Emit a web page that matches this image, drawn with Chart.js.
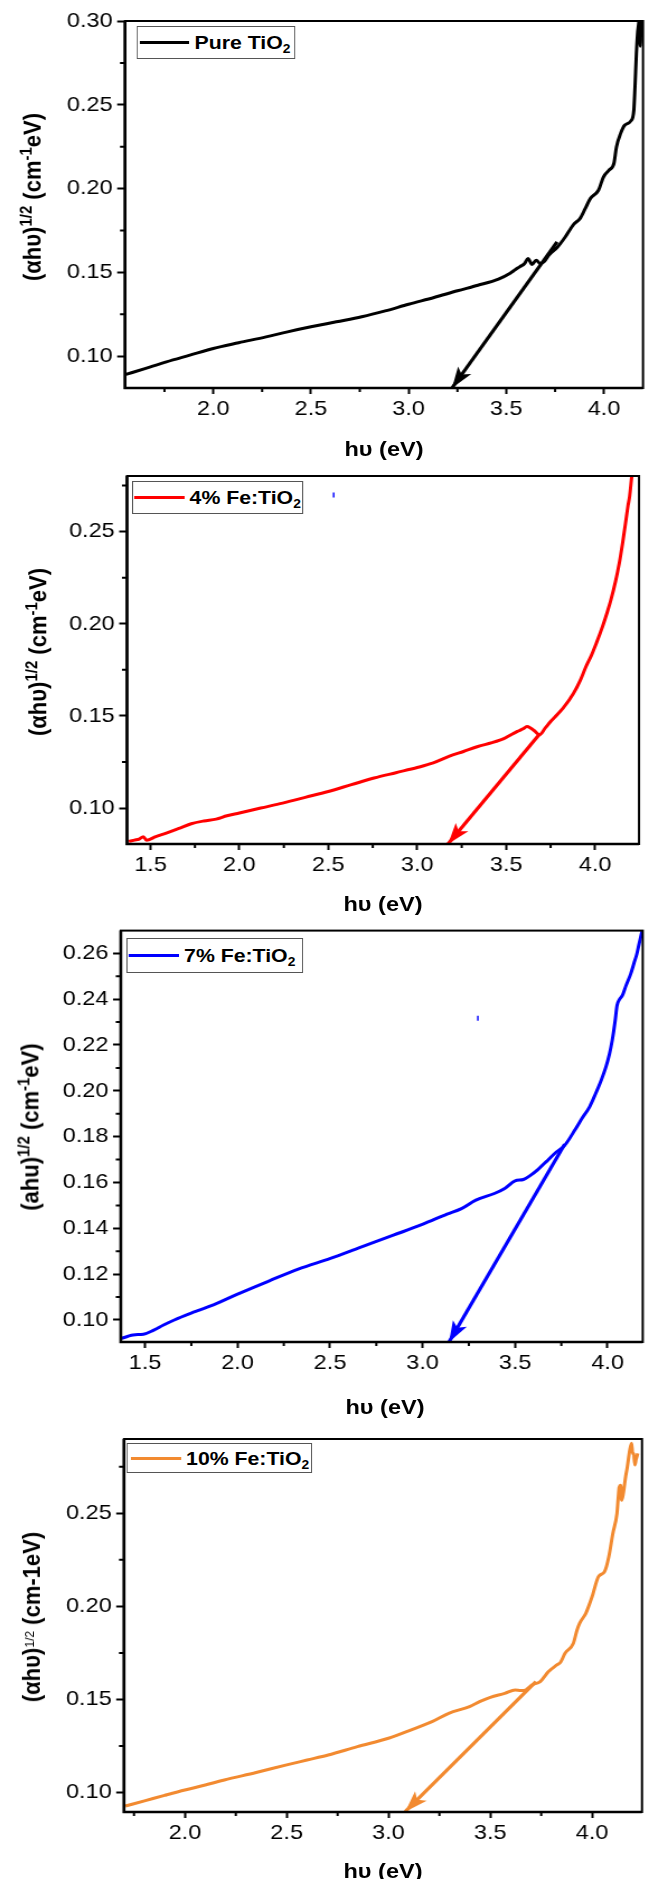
<!DOCTYPE html>
<html lang="en">
<head>
<meta charset="UTF-8">
<title>Tauc plots: TiO2 and Fe:TiO2</title>
<script src="https://cdn.jsdelivr.net/npm/chart.js@4"></script>
<style>
  html, body { margin: 0; padding: 0; background: #fff; }
  body { width: 649px; height: 1879px; overflow: hidden; position: relative; font-family: "Liberation Sans", Arial, sans-serif; color: #000; }
  #stage { position: absolute; left: 0; top: 0; width: 580px; height: 1879px; transform-origin: 0 0; }
  .panel { position: absolute; left: 0; }
  .ytitle, .xtitle { position: absolute; font-weight: bold; white-space: nowrap; line-height: 1; }
  .ytitle { font-size: 22px; transform: translate(-50%, -50%) rotate(-90deg); }
  .xtitle { font-size: 21px; transform: translate(-50%, -50%); }
  sup { font-size: 0.68em; vertical-align: 0.5em; line-height: 0; }
  sup.thin { font-size: 0.55em; font-weight: normal; }
  sub { font-size: 0.65em; vertical-align: -0.3em; line-height: 0; }
  .legend { position: absolute; box-sizing: border-box; border: 1px solid #555; background: #fff; display: flex; align-items: center; white-space: nowrap; }
  .legend .swatch { display: inline-block; height: 3px; flex: none; }
  .legend .label { font-weight: bold; font-size: 19px; line-height: 1; }
</style>
</head>
<body>
<div id="stage"></div>
<script>
// the source figure is stretched sideways, so everything is drawn narrower and scaled back up
const SX = 649 / 580;

// Pure TiO2
const pureX = [1.553, 1.65, 1.76, 1.88, 2.00, 2.13, 2.27, 2.38, 2.50, 2.63, 2.76, 2.88, 3.00, 3.13, 3.25, 3.355,
  3.46, 3.52, 3.547, 3.568, 3.594, 3.611, 3.632, 3.653, 3.674, 3.696, 3.717, 3.760, 3.800, 3.845, 3.877, 3.904,
  3.930, 3.972, 3.998, 4.026, 4.051, 4.064, 4.085, 4.106, 4.138, 4.153, 4.159, 4.166, 4.172, 4.179, 4.181, 4.186, 4.190];
const pureY = [0.0891, 0.0926, 0.0966, 0.1006, 0.1046, 0.1080, 0.1115, 0.1145, 0.1175, 0.1205, 0.1235, 0.1270, 0.1310, 0.1350, 0.1390, 0.1423,
  0.1460, 0.1495, 0.1517, 0.1533, 0.1553, 0.1583, 0.1547, 0.1573, 0.1553, 0.1567, 0.1602, 0.1648, 0.1708, 0.1787, 0.1821, 0.1880,
  0.1940, 0.1990, 0.2070, 0.2110, 0.2150, 0.2248, 0.2328, 0.2378, 0.2404, 0.2467, 0.2606, 0.2805, 0.2924, 0.3000, 0.3045, 0.2850, 0.3050];
const pureArrowX = [3.760, 3.222];
const pureArrowY = [0.1682, 0.0810];
const pureXTicks = [2.0, 2.5, 3.0, 3.5, 4.0];
const pureYTicks = [0.10, 0.15, 0.20, 0.25, 0.30];

// 4% Fe:TiO2
const fe4X = [1.378, 1.41, 1.437, 1.46, 1.477, 1.53, 1.589, 1.66, 1.729, 1.80, 1.869, 1.93, 2.00, 2.12, 2.243, 2.37,
  2.50, 2.63, 2.757, 2.88, 3.00, 3.09, 3.178, 3.26, 3.341, 3.42, 3.493, 3.563, 3.595, 3.617, 3.637, 3.657, 3.687,
  3.72, 3.75, 3.785, 3.82, 3.879, 3.92, 3.949, 3.98, 4.007, 4.042, 4.07, 4.089, 4.115, 4.136, 4.155, 4.171, 4.185, 4.194, 4.206, 4.212];
const fe4Y = [0.0819, 0.0826, 0.0832, 0.0845, 0.0826, 0.0845, 0.0864, 0.0890, 0.0915, 0.0930, 0.0940, 0.0958, 0.0973, 0.1000, 0.1027, 0.1058,
  0.1090, 0.1127, 0.1163, 0.1192, 0.1220, 0.1245, 0.1280, 0.1307, 0.1334, 0.1355, 0.1380, 0.1416, 0.1430, 0.1443, 0.1435, 0.1421, 0.1398,
  0.1435, 0.1470, 0.1505, 0.1542, 0.1623, 0.1700, 0.1768, 0.1830, 0.1894, 0.1985, 0.2068, 0.2130, 0.2230, 0.2328, 0.2440, 0.2545, 0.2640, 0.2690, 0.2798, 0.2850];
const fe4ArrowX = [3.687, 3.173];
const fe4ArrowY = [0.1401, 0.0805];
const fe4DotX = [2.53];
const fe4DotY = [0.2699];
const fe4XTicks = [1.5, 2.0, 2.5, 3.0, 3.5, 4.0];
const fe4YTicks = [0.10, 0.15, 0.20, 0.25];

// 7% Fe:TiO2
const fe7X = [1.373, 1.405, 1.435, 1.491, 1.547, 1.60, 1.658, 1.77, 1.882, 2.00, 2.172, 2.328, 2.502, 2.663, 2.842, 3.002,
  3.132, 3.21, 3.288, 3.388, 3.444, 3.50, 3.545, 3.585, 3.623, 3.667, 3.723, 3.768, 3.824, 3.862, 3.902, 3.935,
  3.965, 3.991, 4.01, 4.025, 4.040, 4.051, 4.065, 4.08, 4.10, 4.125, 4.142, 4.158, 4.17, 4.18, 4.19];
const fe7Y = [0.0920, 0.0928, 0.0935, 0.0938, 0.0956, 0.0978, 0.1000, 0.1036, 0.1070, 0.1113, 0.1171, 0.1222, 0.1269, 0.1317, 0.1370, 0.1418,
  0.1462, 0.1486, 0.1523, 0.1552, 0.1574, 0.1607, 0.1613, 0.1632, 0.1656, 0.1690, 0.1733, 0.1762, 0.1830, 0.1880, 0.1929, 0.1987,
  0.2045, 0.2104, 0.2160, 0.2220, 0.2300, 0.2372, 0.2400, 0.2416, 0.2460, 0.2510, 0.2555, 0.2597, 0.2640, 0.2675, 0.2710];
const fe7ArrowX = [3.768, 3.143];
const fe7ArrowY = [0.1767, 0.0904];
const fe7DotX = [3.299];
const fe7DotY = [0.2317];
const fe7XTicks = [1.5, 2.0, 2.5, 3.0, 3.5, 4.0];
const fe7YTicks = [0.10, 0.12, 0.14, 0.16, 0.18, 0.20, 0.22, 0.24, 0.26];

// 10% Fe:TiO2
const fe10X = [1.708, 1.806, 1.90, 2.00, 2.10, 2.194, 2.35, 2.50, 2.60, 2.704, 2.847, 3.00, 3.112, 3.214, 3.296, 3.398,
  3.45, 3.50, 3.571, 3.622, 3.65, 3.673, 3.704, 3.745, 3.786, 3.827, 3.845, 3.867, 3.908, 3.925, 3.939, 3.969,
  4.00, 4.031, 4.061, 4.082, 4.102, 4.122, 4.128, 4.133, 4.140, 4.145, 4.153, 4.165, 4.173, 4.185, 4.194, 4.199, 4.204, 4.210, 4.216, 4.224];
const fe10Y = [0.0928, 0.0957, 0.0985, 0.1014, 0.1041, 0.1068, 0.1108, 0.1149, 0.1175, 0.1202, 0.1247, 0.1292, 0.1337, 0.1381, 0.1426, 0.1462,
  0.1490, 0.1512, 0.1533, 0.1551, 0.1548, 0.1551, 0.1578, 0.1596, 0.1650, 0.1686, 0.1700, 0.1748, 0.1802, 0.1870, 0.1910, 0.1963,
  0.2053, 0.2160, 0.2187, 0.2267, 0.2393, 0.2500, 0.2580, 0.2640, 0.2650, 0.2570, 0.2607, 0.2700, 0.2750, 0.2840, 0.2876, 0.2820, 0.2822, 0.2760, 0.2790, 0.2822];
const fe10ArrowX = [3.724, 3.082];
const fe10ArrowY = [0.1596, 0.0898];
const fe10XTicks = [2.0, 2.5, 3.0, 3.5, 4.0];
const fe10YTicks = [0.10, 0.15, 0.20, 0.25];

const xTitle = 'h\u03c5 (eV)';

// layout in page pixels: plot frame L/R/T/B, legend box [x1, y1, x2, y2, swatch start]
const panels = [
  { label: 'Pure TiO<sub>2</sub>', color: '#000000', x: pureX, y: pureY, ax: pureArrowX, ay: pureArrowY,
    xTicks: pureXTicks, yTicks: pureYTicks, xMin: 1.548, xMax: 4.20, yMin: 0.081, yMax: 0.30, xMinor: 0.25, yMinor: 0.025, yDigits: 2,
    box: { top: 0, h: 470, L: 125, R: 643, T: 21, B: 388 },
    yTitle: '(\u03b1h\u03c5)<sup>1/2</sup> (cm<sup>-1</sup>eV)', yt: [33, 197], xt: [384, 448],
    legend: [136.7, 26, 295, 59, 138.5] },
  { label: '4% Fe:TiO<sub>2</sub>', color: '#ff0000', x: fe4X, y: fe4Y, ax: fe4ArrowX, ay: fe4ArrowY, dx: fe4DotX, dy: fe4DotY,
    xTicks: fe4XTicks, yTicks: fe4YTicks, xMin: 1.368, xMax: 4.247, yMin: 0.0805, yMax: 0.2802, xMinor: 0.25, yMinor: 0.025, yDigits: 2,
    box: { top: 470, h: 455, L: 127, R: 639, T: 476, B: 844 },
    yTitle: '(\u03b1h\u03c5)<sup>1/2</sup> (cm<sup>-1</sup>eV)', yt: [38, 652], xt: [383, 903],
    legend: [131.7, 480.7, 302.7, 514, 133.5] },
  { label: '7% Fe:TiO<sub>2</sub>', color: '#0000ff', x: fe7X, y: fe7Y, ax: fe7ArrowX, ay: fe7ArrowY, dx: fe7DotX, dy: fe7DotY,
    xTicks: fe7XTicks, yTicks: fe7YTicks, xMin: 1.369, xMax: 4.19, yMin: 0.0904, yMax: 0.2699, xMinor: 0.25, yMinor: 0.01, yDigits: 2,
    box: { top: 925, h: 495, L: 120.8, R: 646.7, T: 930, B: 1342 },
    yTitle: '(ahu)<sup>1/2</sup> (cm<sup>-1</sup>eV)', yt: [30, 1127], xt: [385, 1406],
    legend: [126, 938, 302.7, 973, 128] },
  { label: '10% Fe:TiO<sub>2</sub>', color: '#f28a30', x: fe10X, y: fe10Y, ax: fe10ArrowX, ay: fe10ArrowY,
    xTicks: fe10XTicks, yTicks: fe10YTicks, xMin: 1.701, xMax: 4.245, yMin: 0.0896, yMax: 0.2899, xMinor: 0.25, yMinor: 0.025, yDigits: 2,
    box: { top: 1420, h: 459, L: 124, R: 642, T: 1439, B: 1812 },
    yTitle: '(\u03b1h\u03c5)<sup class="thin">1/2</sup> (cm-1eV)', yt: [33, 1617], xt: [383, 1870],
    legend: [127, 1443, 311.7, 1473, 130] }
];

const frame = {
  id: 'frame',
  afterDraw(chart) {
    const { ctx, chartArea: a } = chart;
    ctx.save();
    ctx.strokeStyle = '#000';
    ctx.lineWidth = 2;
    ctx.strokeRect(a.left, a.top, a.right - a.left, a.bottom - a.top);
    ctx.lineWidth = 2.6;
    ctx.beginPath();
    ctx.moveTo(a.left, a.top);
    ctx.lineTo(a.left, a.bottom);
    ctx.lineTo(a.right, a.bottom);
    ctx.stroke();
    ctx.restore();
  }
};

const minorTicks = {
  id: 'minorTicks',
  afterDraw(chart, args, opts) {
    const { ctx, chartArea: a, scales } = chart;
    const each = (scale, step, fn) => {
      const majors = scale.ticks.map(t => t.value);
      for (let k = Math.ceil(scale.min / step + 0.05); k * step < scale.max - step * 0.05; k++) {
        const v = k * step;
        if (majors.some(m => Math.abs(m - v) < step / 10)) continue;
        fn(scale.getPixelForValue(v));
      }
    };
    ctx.save();
    ctx.strokeStyle = '#000';
    ctx.lineWidth = 2;
    ctx.beginPath();
    each(scales.x, opts.x, px => { ctx.moveTo(px, a.bottom); ctx.lineTo(px, a.bottom + 4); });
    each(scales.y, opts.y, py => { ctx.moveTo(a.left, py); ctx.lineTo(a.left - 4.5, py); });
    ctx.stroke();
    ctx.restore();
  }
};

const arrowHead = {
  id: 'arrowHead',
  afterDatasetsDraw(chart) {
    const ctx = chart.ctx;
    chart.data.datasets.forEach((ds, i) => {
      if (!ds.arrow) return;
      const pts = chart.getDatasetMeta(i).data;
      const p0 = pts[pts.length - 2], p1 = pts[pts.length - 1];
      const ang = Math.atan2(p1.y - p0.y, p1.x - p0.x);
      ctx.save();
      ctx.fillStyle = ds.borderColor;
      ctx.translate(p1.x, p1.y);
      ctx.rotate(ang);
      ctx.beginPath();
      ctx.moveTo(0, 0);
      ctx.lineTo(-21, -7);
      ctx.lineTo(-16, 0);
      ctx.lineTo(-21, 7);
      ctx.closePath();
      ctx.fill();
      ctx.restore();
    });
  }
};

const stage = document.getElementById('stage');
stage.style.transform = 'scaleX(' + SX + ')';
const fontFamily = '"Liberation Sans", Arial, sans-serif';
const pts = (xs, ys) => xs.map((v, i) => ({ x: v, y: ys[i] }));

panels.forEach(p => {
  const b = p.box;
  const div = document.createElement('div');
  div.className = 'panel';
  div.style.top = b.top + 'px';
  const cv = document.createElement('canvas');
  cv.width = 580;
  cv.height = b.h;
  div.appendChild(cv);
  stage.appendChild(div);

  const datasets = [
    { data: pts(p.x, p.y), borderColor: p.color, borderWidth: 3, pointRadius: 0, cubicInterpolationMode: 'monotone' },
    { data: pts(p.ax, p.ay), borderColor: p.color, borderWidth: 3.2, pointRadius: 0, arrow: true }
  ];
  if (p.dx) {
    datasets.push({ data: pts(p.dx, p.dy), showLine: false, pointStyle: 'line', pointRotation: 90,
      pointRadius: 2.5, pointBorderWidth: 1.6, pointBorderColor: '#1a1aff', borderColor: '#1a1aff' });
  }

  new Chart(cv, {
    type: 'line',
    data: { datasets },
    options: {
      responsive: false,
      animation: false,
      layout: { padding: { top: b.T - b.top, right: 580 - b.R / SX, left: 0, bottom: 0 } },
      plugins: {
        legend: { display: false },
        tooltip: { enabled: false },
        minorTicks: { x: p.xMinor, y: p.yMinor }
      },
      scales: {
        x: {
          type: 'linear', min: p.xMin, max: p.xMax,
          afterBuildTicks: s => { s.ticks = p.xTicks.map(v => ({ value: v })); },
          afterFit: s => { s.height = b.top + b.h - b.B; s.paddingLeft = 0; s.paddingRight = 0; },
          ticks: { callback: v => v.toFixed(1), font: { family: fontFamily, size: 21 }, color: '#000', padding: 3, maxRotation: 0, autoSkip: false },
          grid: { drawOnChartArea: false, drawTicks: true, tickLength: 6, tickWidth: 2, tickColor: '#000' },
          border: { display: false }
        },
        y: {
          type: 'linear', min: p.yMin, max: p.yMax,
          afterBuildTicks: s => { s.ticks = p.yTicks.map(v => ({ value: v })); },
          afterFit: s => { s.width = b.L / SX; s.paddingTop = 0; s.paddingBottom = 0; },
          ticks: { callback: v => v.toFixed(p.yDigits), font: { family: fontFamily, size: 21 }, color: '#000', padding: 4, autoSkip: false },
          grid: { drawOnChartArea: false, drawTicks: true, tickLength: 7, tickWidth: 2, tickColor: '#000' },
          border: { display: false }
        }
      }
    },
    plugins: [frame, minorTicks, arrowHead]
  });

  const yt = document.createElement('div');
  yt.className = 'ytitle';
  yt.innerHTML = p.yTitle;
  yt.style.left = (p.yt[0] / SX) + 'px';
  yt.style.top = p.yt[1] + 'px';
  stage.appendChild(yt);

  const xt = document.createElement('div');
  xt.className = 'xtitle';
  xt.textContent = xTitle;
  xt.style.left = (p.xt[0] / SX) + 'px';
  xt.style.top = p.xt[1] + 'px';
  stage.appendChild(xt);

  const [x1, y1, x2, y2, sw] = p.legend;
  const lg = document.createElement('div');
  lg.className = 'legend';
  lg.style.left = (x1 / SX) + 'px';
  lg.style.top = y1 + 'px';
  lg.style.width = ((x2 - x1) / SX) + 'px';
  lg.style.height = (y2 - y1) + 'px';
  lg.innerHTML = '<span class="swatch" style="margin-left:' + ((sw - x1) / SX) + 'px;width:' + (50 / SX) +
    'px;background:' + p.color + '"></span><span class="label" style="margin-left:' + (5 / SX) + 'px">' + p.label + '</span>';
  stage.appendChild(lg);
});
</script>
</body>
</html>
